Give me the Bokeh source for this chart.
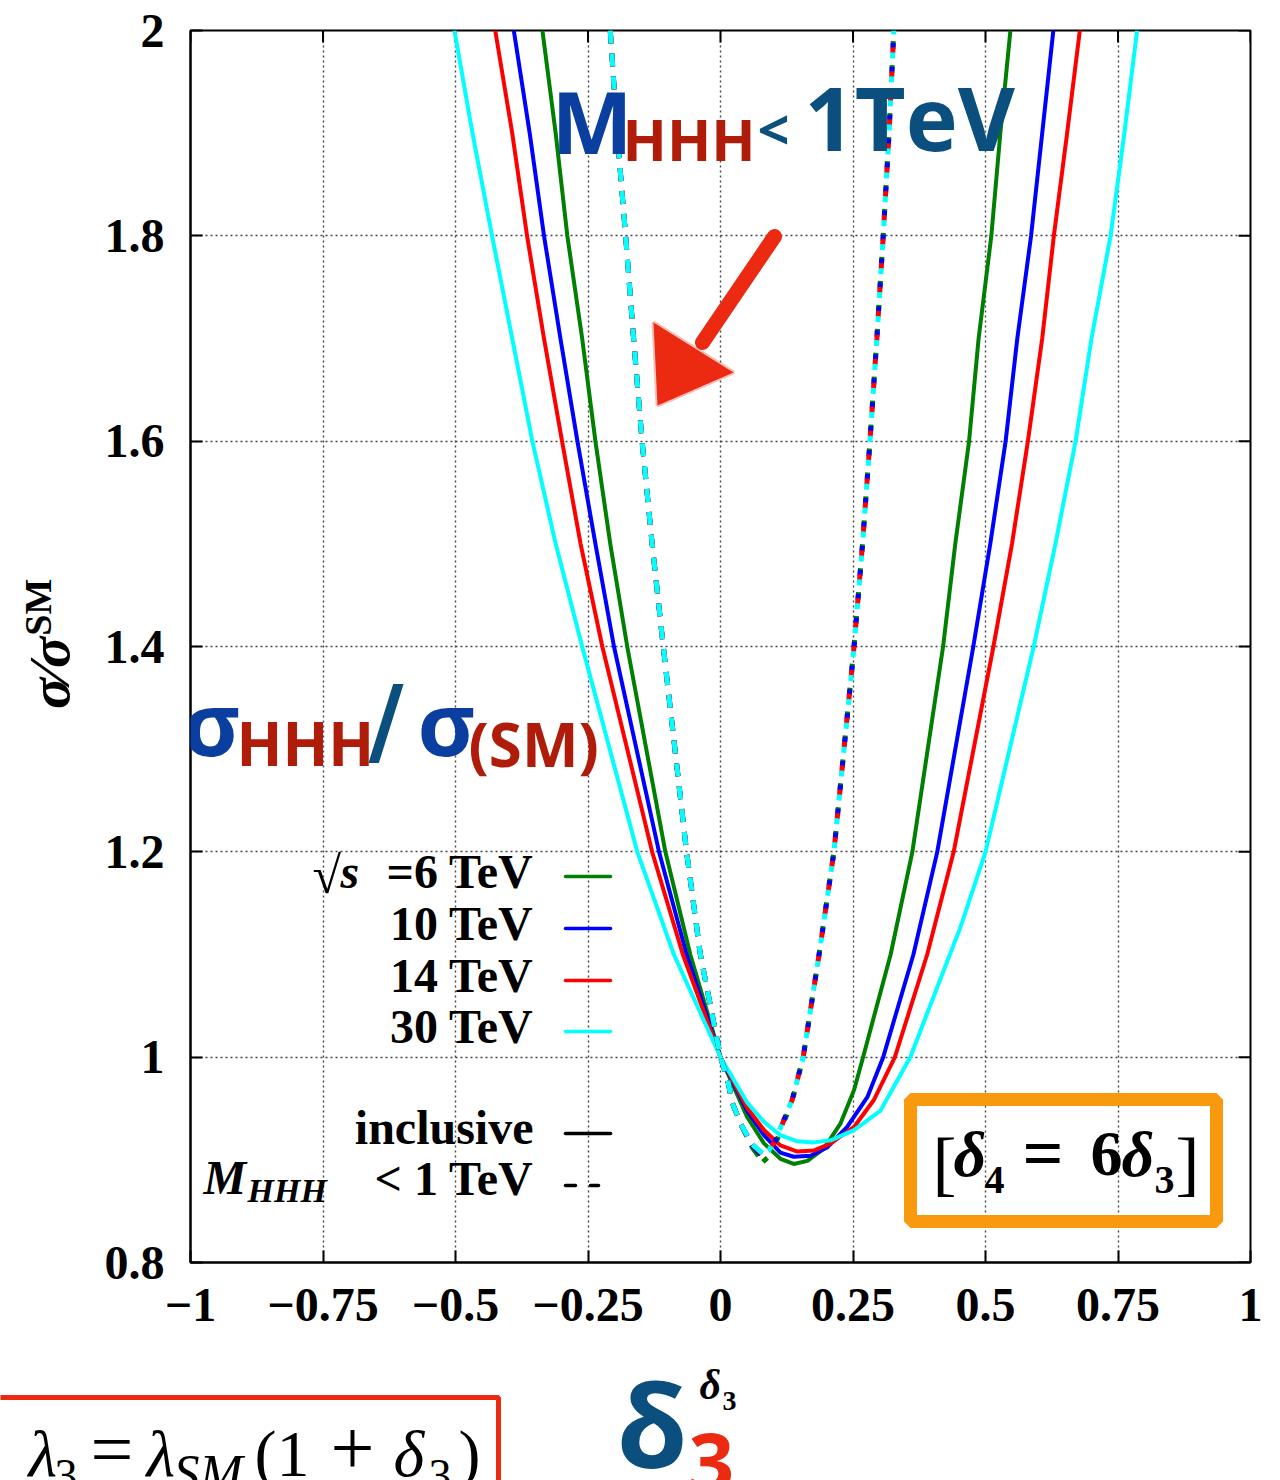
import math
from bokeh.plotting import figure
from bokeh.layouts import column, row
from bokeh.models import (Label, BoxAnnotation, PolyAnnotation, FixedTicker,
                          CustomJSTickFormatter, Range1d)
from bokeh.embed import file_html
from bokeh.resources import INLINE

# ---------------- data ----------------
energies = ["6 TeV", "10 TeV", "14 TeV", "30 TeV"]
colors = ["#008000", "#0000ff", "#ff0000", "#00ffff"]

x_ticks = [-1, -0.75, -0.5, -0.25, 0, 0.25, 0.5, 0.75, 1]
y_ticks = [0.8, 1.0, 1.2, 1.4, 1.6, 1.8, 2.0]

# inclusive cross sections sigma/sigma_SM vs delta_3
incl_6_x = [-0.336, -0.311, -0.289, -0.261, -0.236, -0.208, -0.176, -0.104, -0.057, 0.0, 0.050,
            0.082, 0.113, 0.138, 0.164, 0.195, 0.226, 0.252, 0.269, 0.321, 0.362, 0.420, 0.443,
            0.469, 0.487, 0.511, 0.528, 0.547]
incl_6_y = [2.0, 1.9, 1.8, 1.7, 1.6, 1.5, 1.4, 1.2, 1.1, 1.0, 0.942,
            0.916, 0.901, 0.896, 0.899, 0.911, 0.935, 0.968, 1.0, 1.1, 1.2, 1.4, 1.5,
            1.6, 1.7, 1.8, 1.9, 2.0]

incl_10_x = [-0.390, -0.360, -0.333, -0.302, -0.270, -0.236, -0.201, -0.116, -0.064, 0.0, 0.050,
             0.082, 0.113, 0.138, 0.170, 0.201, 0.239, 0.277, 0.307, 0.364, 0.409, 0.477, 0.509,
             0.538, 0.560, 0.586, 0.607, 0.628]
incl_10_y = [2.0, 1.9, 1.8, 1.7, 1.6, 1.5, 1.4, 1.2, 1.1, 1.0, 0.948,
             0.924, 0.907, 0.903, 0.904, 0.912, 0.932, 0.961, 1.0, 1.1, 1.2, 1.4, 1.5,
             1.6, 1.7, 1.8, 1.9, 2.0]

incl_14_x = [-0.425, -0.393, -0.365, -0.333, -0.299, -0.264, -0.223, -0.129, -0.071, 0.0, 0.050,
             0.082, 0.113, 0.145, 0.176, 0.208, 0.252, 0.289, 0.329, 0.390, 0.440, 0.515, 0.550,
             0.580, 0.607, 0.629, 0.654, 0.678]
incl_14_y = [2.0, 1.9, 1.8, 1.7, 1.6, 1.5, 1.4, 1.2, 1.1, 1.0, 0.951,
             0.929, 0.914, 0.908, 0.909, 0.916, 0.932, 0.958, 1.0, 1.1, 1.2, 1.4, 1.5,
             1.6, 1.7, 1.8, 1.9, 2.0]

incl_30_x = [-0.502, -0.468, -0.431, -0.393, -0.355, -0.311, -0.261, -0.157, -0.088, 0.0, 0.050,
             0.082, 0.113, 0.145, 0.176, 0.208, 0.252, 0.302, 0.358, 0.453, 0.500, 0.591, 0.632,
             0.670, 0.700, 0.736, 0.762, 0.786]
incl_30_y = [2.0, 1.9, 1.8, 1.7, 1.6, 1.5, 1.4, 1.2, 1.1, 1.0, 0.956,
             0.937, 0.924, 0.918, 0.917, 0.919, 0.929, 0.948, 1.0, 1.127, 1.2, 1.4, 1.5,
             1.6, 1.7, 1.8, 1.9, 2.0]

# M_HHH < 1 TeV (dashed)
cut_6_x = [-0.208, -0.195, -0.179, -0.164, -0.148, -0.129, -0.108, -0.064, -0.038, 0.0, 0.013,
           0.022, 0.038, 0.060, 0.080, 0.091, 0.107, 0.119, 0.135, 0.156, 0.186, 0.214, 0.252,
           0.268, 0.282, 0.295, 0.307, 0.318, 0.327]
cut_6_y = [2.0, 1.9, 1.8, 1.7, 1.6, 1.5, 1.4, 1.2, 1.1, 1.0, 0.979,
           0.956, 0.935, 0.912, 0.898, 0.903, 0.920, 0.936, 0.957, 1.0, 1.1, 1.2, 1.4,
           1.5, 1.6, 1.7, 1.8, 1.9, 2.0]
cut_10_x = [-0.208, -0.195, -0.179, -0.164, -0.148, -0.129, -0.108, -0.064, -0.038, 0.0, 0.013,
            0.022, 0.038, 0.060, 0.080, 0.091, 0.107, 0.119, 0.135, 0.156, 0.186, 0.214, 0.252,
            0.268, 0.282, 0.295, 0.307, 0.318, 0.327]
cut_10_y = [2.0, 1.9, 1.8, 1.7, 1.6, 1.5, 1.4, 1.2, 1.1, 1.0, 0.979,
            0.956, 0.935, 0.914, 0.903, 0.907, 0.922, 0.938, 0.958, 1.0, 1.1, 1.2, 1.4,
            1.5, 1.6, 1.7, 1.8, 1.9, 2.0]
cut_14_x = [-0.208, -0.195, -0.179, -0.164, -0.148, -0.129, -0.108, -0.064, -0.038, 0.0, 0.013,
            0.022, 0.038, 0.060, 0.080, 0.091, 0.107, 0.119, 0.135, 0.156, 0.186, 0.214, 0.252,
            0.268, 0.282, 0.295, 0.307, 0.318, 0.327]
cut_14_y = [2.0, 1.9, 1.8, 1.7, 1.6, 1.5, 1.4, 1.2, 1.1, 1.0, 0.979,
            0.956, 0.935, 0.915, 0.905, 0.908, 0.922, 0.938, 0.958, 1.0, 1.1, 1.2, 1.4,
            1.5, 1.6, 1.7, 1.8, 1.9, 2.0]
cut_30_x = [-0.208, -0.195, -0.179, -0.164, -0.148, -0.129, -0.108, -0.064, -0.038, 0.0, 0.013,
            0.022, 0.038, 0.060, 0.080, 0.091, 0.107, 0.119, 0.135, 0.156, 0.186, 0.214, 0.252,
            0.268, 0.282, 0.295, 0.307, 0.318, 0.327]
cut_30_y = [2.0, 1.9, 1.8, 1.7, 1.6, 1.5, 1.4, 1.2, 1.1, 1.0, 0.979,
            0.956, 0.935, 0.915, 0.906, 0.909, 0.923, 0.939, 0.958, 1.0, 1.1, 1.2, 1.4,
            1.5, 1.6, 1.7, 1.8, 1.9, 2.0]

incl_x = [incl_6_x, incl_10_x, incl_14_x, incl_30_x]
incl_y = [incl_6_y, incl_10_y, incl_14_y, incl_30_y]
cut_x = [cut_6_x, cut_10_x, cut_14_x, cut_30_x]
cut_y = [cut_6_y, cut_10_y, cut_14_y, cut_30_y]

# ---------------- layout geometry (page pixels) ----------------
W, H = 1280, 1480
LEFT_W = 100          # strip holding the rotated y label
MAIN_H = 1360         # main figure height; bottom strip below it
FL, FR, FT, FB = 190, 1250, 30, 1262   # plot frame in page pixels
X0, X1, Y0, Y1 = -1.0, 1.0, 0.8, 2.0


def dx(px):
    return X0 + (px - FL) * (X1 - X0) / (FR - FL)


def dy(py):
    return Y0 + (FB - py) * (Y1 - Y0) / (FB - FT)


p = figure(width=W - LEFT_W, height=MAIN_H, x_range=Range1d(X0, X1), y_range=Range1d(Y0, Y1),
           output_backend="svg", toolbar_location=None,
           min_border_left=FL - LEFT_W, min_border_right=W - FR, min_border_top=FT,
           min_border_bottom=MAIN_H - FB)
p.background_fill_color = "white"
p.border_fill_color = "white"
p.outline_line_color = "black"
p.outline_line_width = 2

fmt = CustomJSTickFormatter(code="""
const v = Math.round(tick*100)/100;
return v < 0 ? "\u2212" + Math.abs(v).toString() : v.toString();
""")

p.xaxis.ticker = FixedTicker(ticks=x_ticks)
p.yaxis.ticker = FixedTicker(ticks=y_ticks)
p.xaxis.formatter = fmt
p.yaxis.formatter = fmt
for ax in [p.xaxis[0], p.yaxis[0]]:
    ax.major_tick_in = 12
    ax.major_tick_out = 0
    ax.minor_tick_line_color = None
    ax.axis_line_width = 2
    ax.major_tick_line_width = 2
    ax.major_label_text_font = "Liberation Serif"
    ax.major_label_text_font_style = "bold"
    ax.major_label_text_font_size = "48px"
    ax.major_label_text_color = "black"
    ax.major_label_standoff = 26

# inward ticks on the top and right frame edges
tick_dx = 12 * (X1 - X0) / (FR - FL)
tick_dy = 12 * (Y1 - Y0) / (FB - FT)
p.segment(x0=x_ticks, y0=[Y1] * len(x_ticks), x1=x_ticks, y1=[Y1 - tick_dy] * len(x_ticks),
          line_color="black", line_width=2)
p.segment(x0=[X1] * len(y_ticks), y0=y_ticks, x1=[X1 - tick_dx] * len(y_ticks), y1=y_ticks,
          line_color="black", line_width=2)

p.xgrid.ticker = FixedTicker(ticks=x_ticks)
p.ygrid.ticker = FixedTicker(ticks=y_ticks)
for g in [p.xgrid[0], p.ygrid[0]]:
    g.grid_line_color = "#444444"
    g.grid_line_dash = "2 3"
    g.grid_line_width = 1.4

# ---------------- curves ----------------
for xs, ys, c in zip(incl_x, incl_y, colors):
    p.line(xs, ys, line_color=c, line_width=4, line_join="round")

for i, (xs, ys, c) in enumerate(zip(cut_x, cut_y, colors)):
    k = ys.index(min(ys))
    p.line(xs[:k + 1], ys[:k + 1], line_color=c, line_width=5, line_dash="13 10")
for i, (xs, ys, c) in enumerate(zip(cut_x, cut_y, colors)):
    k = ys.index(min(ys))
    p.line(xs[k:], ys[k:], line_color=c, line_width=5, line_dash="6 18",
           line_dash_offset=6 * i)


# ---------------- side strips ----------------
def strip(w, h):
    f = figure(width=w, height=h, x_range=Range1d(0, w), y_range=Range1d(0, h),
               output_backend="svg", toolbar_location=None, min_border=0,
               x_axis_location=None, y_axis_location=None)
    f.grid.visible = False
    f.outline_line_color = None
    f.background_fill_color = "white"
    f.border_fill_color = "white"
    return f


left = strip(LEFT_W, MAIN_H)
bottom = strip(W, H - MAIN_H)


def make_lab(fig, fx, fy):
    def lab(text, px, py, size, color="black", font="Liberation Serif", style="bold",
            align="left", angle=0.0):
        # (px, py): start/end of the text on its baseline, page pixels
        off = 0.41 * size
        if angle:
            px = px - off
        else:
            py = py - off
        fig.add_layout(Label(x=fx(px), y=fy(py), text=text, text_font_size=f"{size}px",
                             text_color=color, text_font=font, text_font_style=style,
                             text_align=align, text_baseline="alphabetic", angle=angle))
    return lab


lab = make_lab(p, dx, dy)
lab_left = make_lab(left, lambda px: px, lambda py: MAIN_H - py)
lab_bot = make_lab(bottom, lambda px: px, lambda py: H - py)


def seg(px0, py0, px1, py1, color, width, dash="solid"):
    p.segment(x0=[dx(px0)], y0=[dy(py0)], x1=[dx(px1)], y1=[dy(py1)],
              line_color=color, line_width=width, line_dash=dash, line_cap="round")


BLUE = "#0a3fa0"
DRED = "#b01c0a"
TEAL = "#0b4f7e"
RED = "#ec2a12"
ORANGE = "#f99a0e"

# M_HHH < 1 TeV (top)
lab("M", 551, 155, 86, BLUE, "Open Sans")
lab("HHH", 622, 162, 58, DRED, "Open Sans")
lab("<", 757, 150, 56, TEAL, "Open Sans")
lab("1TeV", 804, 153, 88, TEAL, "Open Sans")

# sigma_HHH / sigma_(SM)
lab("σ", 182, 758, 88, BLUE, "Open Sans")
lab("HHH", 236, 767, 60, DRED, "Open Sans")
lab("∕", 368, 760, 96, TEAL, "DejaVu Sans")
lab("σ", 417, 758, 88, BLUE, "Open Sans")
lab("(SM)", 468, 768, 60, DRED, "Open Sans")

# red hand-drawn arrow
seg(774, 236, 702, 342, RED, 15)
p.add_layout(PolyAnnotation(xs=[dx(653), dx(657), dx(733)], ys=[dy(322), dy(405), dy(372)],
                            fill_color=RED, fill_alpha=1, line_color=RED, line_width=4))

# orange box [delta4 = 6 delta3]
p.add_layout(BoxAnnotation(left=dx(910), right=dx(1216), top=dy(1099), bottom=dy(1221),
                           fill_alpha=0, line_color=ORANGE, line_width=13, line_alpha=1))
lab("[", 932, 1192, 72, style="normal")
lab("δ", 953, 1180, 64, style="bold italic")
lab("4", 984, 1196, 40)
lab("=", 1022, 1182, 72)
lab("6", 1090, 1180, 64)
lab("δ", 1121, 1180, 64, style="bold italic")
lab("3", 1154, 1196, 40)
lab("]", 1175, 1192, 72, style="normal")

# legend
rows = [876, 928, 980, 1031]
lab("=6 TeV", 533, 891, 48, align="right")
lab("√", 312, 896, 52, style="normal")
lab("s", 340, 891, 48, style="bold italic")
lab("10 TeV", 533, 943, 48, align="right")
lab("14 TeV", 533, 995, 48, align="right")
lab("30 TeV", 533, 1046, 48, align="right")
for r, c in zip(rows, colors):
    seg(565, r, 610, r, c, 3.5)
lab("inclusive", 533, 1147, 48, align="right")
seg(565, 1133, 610, 1133, "black", 3.5)
lab("< 1 TeV", 533, 1198, 48, align="right")
lab("M", 203, 1197, 48, style="bold italic")
lab("HHH", 247, 1204, 34, style="bold italic")
seg(565, 1185, 575, 1185, "black", 3.5)
seg(590, 1185, 598, 1185, "black", 3.5)

# y axis label sigma / sigma^SM (rotated), in the left strip
lab_left("σ∕σ", 73, 749, 58, style="bold italic", angle=math.pi / 2)
lab_left("SM", 53, 668, 38, angle=math.pi / 2)

# bottom strip: delta_3 axis annotation
lab_bot("δ", 616, 1470, 115, TEAL, "Open Sans")
lab_bot("3", 688, 1494, 80, RED, "Open Sans")
lab_bot("δ", 699, 1402, 42, style="bold italic")
lab_bot("3", 722, 1412, 28)

# bottom-left red box: lambda_3 = lambda_SM (1 + delta_3)
bottom.add_layout(BoxAnnotation(left=-20, right=498, top=H - 1397, bottom=-60,
                                fill_alpha=0, line_color=RED, line_width=5, line_alpha=1))
lab_bot("λ", 28, 1480, 66, style="italic")
lab_bot("3", 54, 1494, 46, style="normal")
lab_bot("=", 90, 1480, 76, style="normal")
lab_bot("λ", 146, 1480, 66, style="italic")
lab_bot("SM", 173, 1494, 52, style="italic")
lab_bot("(1", 254, 1480, 66, style="normal")
lab_bot("+", 330, 1480, 78, style="normal")
lab_bot("δ", 393, 1480, 66, style="italic")
lab_bot("3", 428, 1494, 46, style="normal")
lab_bot(")", 458, 1480, 66, style="normal")

layout = column(row(left, p), bottom)
open("out.html", "w").write(file_html(layout, INLINE))
